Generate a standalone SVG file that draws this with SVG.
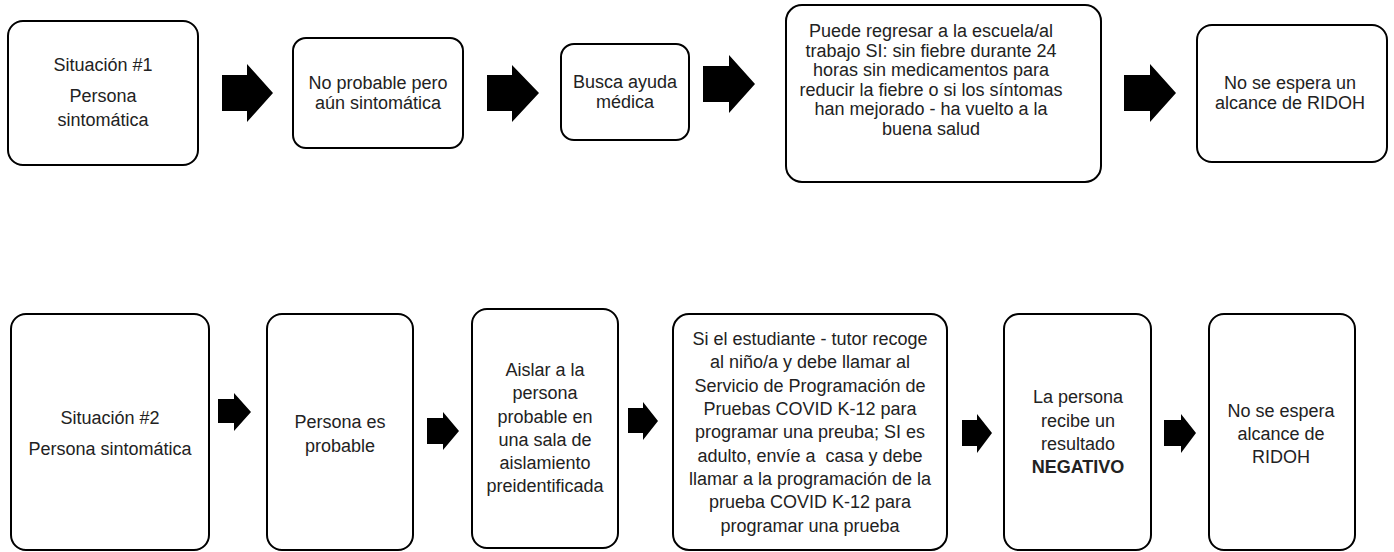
<svg xmlns="http://www.w3.org/2000/svg" width="1394" height="552" viewBox="0 0 1394 552">
<style>
  .box { fill: #fff; stroke: #000; stroke-width: 2; }
  .t { font-family: "Liberation Sans", Arial, sans-serif; font-size: 18px; fill: #222; text-anchor: middle; }
  .b { font-weight: bold; }
  .arr { fill: #000; }
</style>
<rect width="1394" height="552" fill="#fff"/>
<g id="connectors">
  <polygon class="arr" points="222,75 247,75 247,64 273,93 247,122 247,111 222,111"/>
  <polygon class="arr" points="487,75 512,75 512,65 539,93 512,122 512,111 487,111"/>
  <polygon class="arr" points="703,66 729,66 729,55 755,84 729,113 729,102 703,102"/>
  <polygon class="arr" points="1124,75 1150,75 1150,64 1176,93 1150,122 1150,111 1124,111"/>
  <polygon class="arr" points="218,399 234,399 234,393 251,412 234,431 234,423 218,423"/>
  <polygon class="arr" points="427,418 443,418 443,412 459,431 443,450 443,444 427,444"/>
  <polygon class="arr" points="628,408 643,408 643,402 658,421 643,440 643,433 628,433"/>
  <polygon class="arr" points="962,420 977,420 977,414 992,433 977,453 977,446 962,446"/>
  <polygon class="arr" points="1164,420 1181,420 1181,414 1196,433 1181,453 1181,446 1164,446"/>
</g>
<g id="n1">
  <rect class="box" x="8" y="21" width="190" height="144" rx="15"/>
  <text class="t" x="103" y="71">Situación #1</text>
  <text class="t" x="103" y="102">Persona</text>
  <text class="t" x="103" y="126">sintomática</text>
</g>
<g id="n2">
  <rect class="box" x="293" y="38" width="170" height="110" rx="13"/>
  <text class="t" x="378" y="89">No probable pero</text>
  <text class="t" x="378" y="109">aún sintomática</text>
</g>
<g id="n3">
  <rect class="box" x="561" y="44" width="128" height="96" rx="13"/>
  <text class="t" x="625" y="88">Busca ayuda</text>
  <text class="t" x="625" y="108">médica</text>
</g>
<g id="n4">
  <rect class="box" x="786" y="5" width="315" height="177" rx="16"/>
  <text class="t" x="931" y="37">Puede regresar a la escuela/al</text>
  <text class="t" x="931" y="56.6">trabajo SI: sin fiebre durante 24</text>
  <text class="t" x="931" y="76.2">horas sin medicamentos para</text>
  <text class="t" x="931" y="95.8">reducir la fiebre o si los síntomas</text>
  <text class="t" x="931" y="115.4">han mejorado - ha vuelto a la</text>
  <text class="t" x="931" y="135">buena salud</text>
</g>
<g id="n5">
  <rect class="box" x="1197" y="25" width="190" height="137" rx="15"/>
  <text class="t" x="1290" y="89">No se espera un</text>
  <text class="t" x="1290" y="109">alcance de RIDOH</text>
</g>
<g id="n6">
  <rect class="box" x="11" y="314" width="198" height="236" rx="15"/>
  <text class="t" x="110" y="424">Situación #2</text>
  <text class="t" x="110" y="455">Persona sintomática</text>
</g>
<g id="n7">
  <rect class="box" x="267" y="314" width="146" height="236" rx="15"/>
  <text class="t" x="340" y="428">Persona es</text>
  <text class="t" x="340" y="452">probable</text>
</g>
<g id="n8">
  <rect class="box" x="472" y="309" width="146" height="239" rx="15"/>
  <text class="t" x="545" y="376">Aislar a la</text>
  <text class="t" x="545" y="399">persona</text>
  <text class="t" x="545" y="422.5">probable en</text>
  <text class="t" x="545" y="446">una sala de</text>
  <text class="t" x="545" y="469">aislamiento</text>
  <text class="t" x="545" y="492">preidentificada</text>
</g>
<g id="n9">
  <rect class="box" x="673" y="314" width="274" height="236" rx="16"/>
  <text class="t" x="810" y="345">Si el estudiante - tutor recoge</text>
  <text class="t" x="810" y="368.3">al niño/a y debe llamar al</text>
  <text class="t" x="810" y="391.7">Servicio de Programación de</text>
  <text class="t" x="810" y="415">Pruebas COVID K-12 para</text>
  <text class="t" x="810" y="438.3">programar una preuba; SI es</text>
  <text class="t" x="810" y="461.7" xml:space="preserve" style="white-space:pre">adulto, envíe a  casa y debe</text>
  <text class="t" x="810" y="485">llamar a la programación de la</text>
  <text class="t" x="810" y="508.3">prueba COVID K-12 para</text>
  <text class="t" x="810" y="531.7">programar una prueba</text>
</g>
<g id="n10">
  <rect class="box" x="1004" y="314" width="147" height="236" rx="15"/>
  <text class="t" x="1078" y="403">La persona</text>
  <text class="t" x="1078" y="427">recibe un</text>
  <text class="t" x="1078" y="450">resultado</text>
  <text class="t b" x="1078" y="473">NEGATIVO</text>
</g>
<g id="n11">
  <rect class="box" x="1209" y="314" width="146" height="236" rx="15"/>
  <text class="t" x="1281" y="417">No se espera</text>
  <text class="t" x="1281" y="440">alcance de</text>
  <text class="t" x="1281" y="463">RIDOH</text>
</g>
</svg>
